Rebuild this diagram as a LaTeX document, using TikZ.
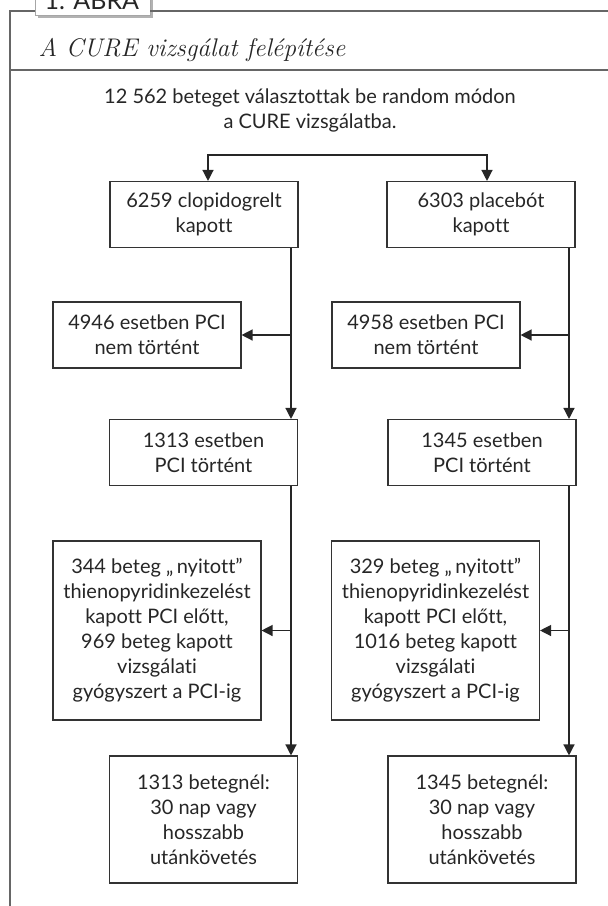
\documentclass[tikz,border=0pt]{standalone}
\usepackage{fontspec}
\setsansfont{Lato}[Ligatures=NoCommon]
\usetikzlibrary{arrows.meta, positioning}

\begin{document}
\begin{tikzpicture}[x=1pt,y=-1pt,>={Triangle[length=11pt,width=11pt]},
      every node/.style={font=\sffamily\fontsize{20}{25}\selectfont,text=black!85},
      box/.style={draw=black!80,line width=1.1pt,align=center,inner sep=0pt,
        minimum width=188pt,minimum height=66pt},
      frame/.style={draw=black!60,line width=1.6pt},
      flow/.style={->,draw=black!85,line width=1.3pt}]
  \useasboundingbox (0,0) rectangle (608,906);
  \fill[black!30] (38,-20) rectangle (153,18);
  \filldraw[fill=white,draw=black!35] (35,-20) rectangle (150,15);
  \node[anchor=base west,font=\sffamily\fontsize{25}{25}\selectfont] (tab) at (41,9) {1. ÁBRA};
  \draw[frame] (35,11) -| (10,906);
  \draw[frame] (150,11) -- (608,11);
  \draw[frame] (10,70) -- (608,70);
  \node[anchor=base west,font=\rmfamily\itshape\fontsize{25.5}{26}\selectfont] (title) at (35,56)
    {A CURE vizsgálat felépítése};
  \node[align=center] (rand) at (310,110) {12 562 beteget választottak be random módon\\a CURE vizsgálatba.};

  \node[box] (clop) at (204,214.5) {6259 clopidogrelt\\kapott};
  \node[box] (plac) at (481,214.5) {6303 placebót\\kapott};
  \node[box] (nopciA) at (147,335) {4946 esetben PCI\\nem történt};
  \node[box] (nopciB) at (426,335) {4958 esetben PCI\\nem történt};
  \node[box] (pciA) at (203.5,452.5) {1313 esetben\\PCI történt};
  \node[box] (pciB) at (482,452.5) {1345 esetben\\PCI történt};
  \node[box,minimum width=208pt,minimum height=179pt] (thienoA) at (157,630.5)
    {344 beteg „\,nyitott”\\thienopyridinkezelést\\kapott PCI előtt,\\969 beteg kapott\\vizsgálati\\gyógyszert a PCI-ig};
  \node[box,minimum width=208pt,minimum height=179pt] (thienoB) at (435.5,630.5)
    {329 beteg „\,nyitott”\\thienopyridinkezelést\\kapott PCI előtt,\\1016 beteg kapott\\vizsgálati\\gyógyszert a PCI-ig};
  \node[box,minimum height=127pt] (followA) at (203.5,819.5) {1313 betegnél:\\30 nap vagy\\hosszabb\\utánkövetés};
  \node[box,minimum height=127pt] (followB) at (482,819.5) {1345 betegnél:\\30 nap vagy\\hosszabb\\utánkövetés};

  \coordinate (split) at (347,155);
  \coordinate (trunkA) at (291,0);
  \coordinate (trunkB) at (569,0);
  \draw[flow] (split) -| ([xshift=4pt]clop.north);
  \draw[flow] (split) -| ([xshift=6pt]plac.north);
  \draw[flow] (clop.south -| trunkA) -- (pciA.north -| trunkA);
  \draw[flow] (nopciA.east -| trunkA) -- (nopciA.east);
  \draw[flow] (pciA.south -| trunkA) -- (followA.north -| trunkA);
  \draw[flow] (thienoA.east -| trunkA) -- (thienoA.east);
  \draw[flow] (plac.south -| trunkB) -- (pciB.north -| trunkB);
  \draw[flow] (nopciB.east -| trunkB) -- (nopciB.east);
  \draw[flow] (pciB.south -| trunkB) -- (followB.north -| trunkB);
  \draw[flow] (thienoB.east -| trunkB) -- (thienoB.east);
\end{tikzpicture}
\end{document}
